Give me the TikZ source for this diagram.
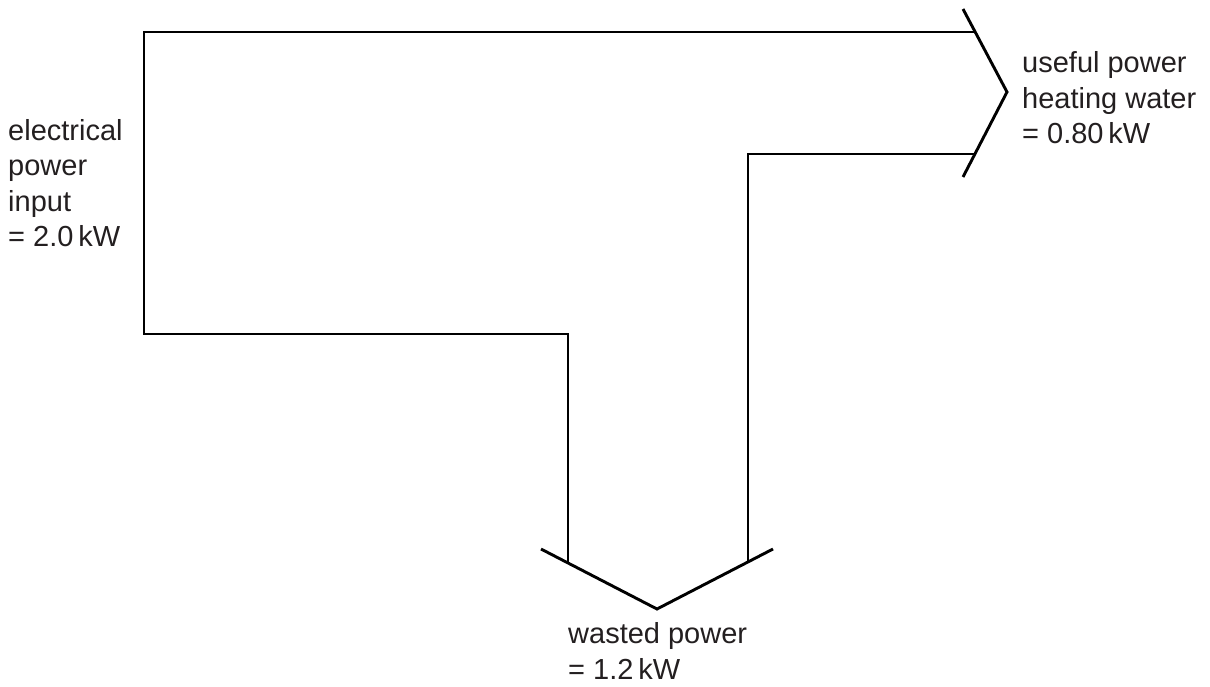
\documentclass[tikz,border=0pt]{standalone}
\usepackage{fontspec}
\setmainfont{Liberation Sans}
\definecolor{ink}{HTML}{231F20}
\begin{document}
\begin{tikzpicture}[x=1pt,y=-1pt,
  flow/.style={line width=2.9pt,draw=black,line join=miter,line cap=butt},
  label/.style={text=ink,align=left,inner sep=0pt,
    font=\fontsize{29}{35.5}\selectfont}]
\useasboundingbox (0,0) rectangle (1210,686);
% main band and its branches
\draw[flow] (974,32) -- (144,32) -- (144,334) -- (568,334) -- (568,562);
\draw[flow] (974,154) -- (748,154) -- (748,562);
% arrowhead for the useful output
\draw[flow] (963,9) -- (1007,92) -- (963,177);
% arrowhead for the wasted output
\draw[flow] (541,549) -- (657,609) -- (773,549);
% labels
\node[label,anchor=west] (in) at (8,183) {electrical\\power\\input\\= 2.0\,kW};
\node[label,anchor=west] (out) at (1022,98) {useful power\\heating water\\= 0.80\,kW};
\node[label,anchor=west] (waste) at (568,651) {wasted power\\= 1.2\,kW};
\end{tikzpicture}
\end{document}
